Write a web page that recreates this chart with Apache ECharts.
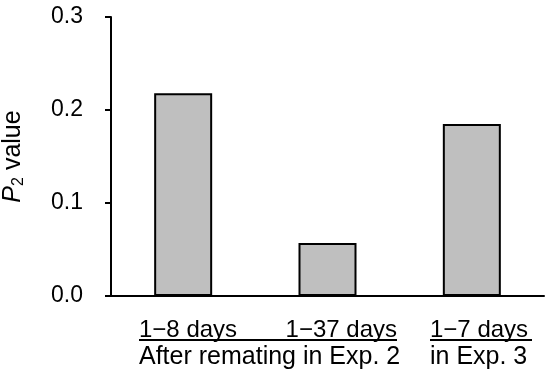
<!DOCTYPE html>
<html>
<head>
<meta charset="utf-8">
<script src="https://cdn.jsdelivr.net/npm/echarts@6/dist/echarts.min.js"></script>
<style>
  html, body { margin: 0; padding: 0; background: #fff; }
  #chart { width: 550px; height: 375px; }
</style>
</head>
<body>
<div id="chart"></div>
<script>
const categories = ['1−8 days', '1−37 days', '1−7 days']
const p2Values = [0.218, 0.057, 0.185]
const yTicks = [0, 0.1, 0.2, 0.3]
const groupLabels = ['After remating in Exp. 2', 'in Exp. 3']

const FONT = '"Liberation Sans", Arial, sans-serif'
const chart = echarts.init(document.getElementById('chart'))

// 分类标签与分组标签的文字样式
const labelStyle = { fontFamily: FONT, fontSize: 24, fill: '#000', verticalAlign: 'middle' }
const groupStyle = { ...labelStyle, fontSize: 25 }

const option = {
  animation: false,
  grid: { left: 111, right: 6, top: 17, bottom: 79, outerBoundsMode: 'none', containLabel: false },
  xAxis: {
    type: 'category',
    data: categories,
    axisLine: { lineStyle: { color: '#000', width: 2 } },
    axisTick: { show: false },
    axisLabel: { show: false }
  },
  yAxis: {
    type: 'value',
    min: yTicks[0],
    max: yTicks[yTicks.length - 1],
    interval: 0.1,
    name: '{i|P}{s|2}{n| value}',
    nameLocation: 'middle',
    nameGap: 84,
    nameRotate: 90,
    nameTextStyle: {
      rich: {
        i: { fontFamily: FONT, fontSize: 25, fontStyle: 'italic', color: '#000' },
        s: { fontFamily: FONT, fontSize: 16, color: '#000', padding: [12, 0, 0, 0] },
        n: { fontFamily: FONT, fontSize: 25, color: '#000' }
      }
    },
    axisLine: { show: true, lineStyle: { color: '#000', width: 2 } },
    axisTick: { show: true, length: 6, lineStyle: { color: '#000', width: 2 } },
    axisLabel: {
      fontFamily: FONT, fontSize: 23, color: '#000', margin: 28,
      formatter: v => v.toFixed(1)
    },
    splitLine: { show: false }
  },
  series: [{
    type: 'bar',
    data: p2Values,
    barWidth: 58,
    itemStyle: { color: '#bfbfbf', borderColor: '#000', borderWidth: 2 }
  }],
  graphic: [
    { type: 'text', x: 139, y: 330, style: { ...labelStyle, text: categories[0], align: 'left' } },
    { type: 'text', x: 397, y: 330, style: { ...labelStyle, text: categories[1], align: 'right' } },
    { type: 'text', x: 430, y: 330, style: { ...labelStyle, text: categories[2], align: 'left' } },
    { type: 'line', shape: { x1: 139, y1: 340, x2: 397, y2: 340 }, style: { stroke: '#000', lineWidth: 2 } },
    { type: 'line', shape: { x1: 430, y1: 340, x2: 532, y2: 340 }, style: { stroke: '#000', lineWidth: 2 } },
    { type: 'text', x: 139, y: 357, style: { ...groupStyle, text: groupLabels[0], align: 'left' } },
    { type: 'text', x: 430, y: 357, style: { ...groupStyle, text: groupLabels[1], align: 'left' } }
  ]
}

chart.setOption(option)
</script>
</body>
</html>
